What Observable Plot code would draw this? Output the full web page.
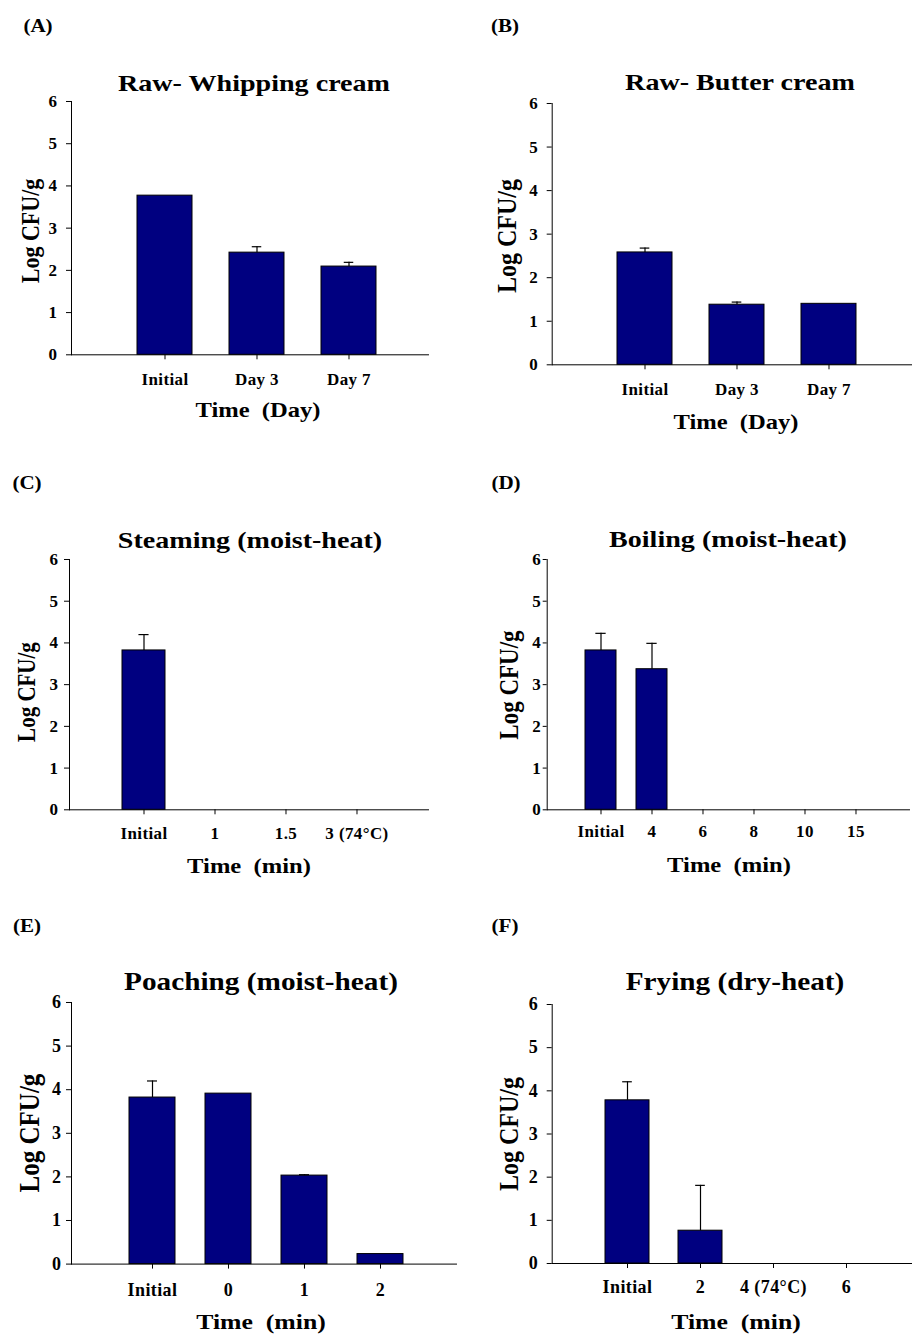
<!DOCTYPE html>
<html><head><meta charset="utf-8">
<script src="https://cdn.jsdelivr.net/npm/d3@7"></script>
<script src="https://cdn.jsdelivr.net/npm/@observablehq/plot@0.6"></script>
<style>
body{margin:0;background:#fff;}
#root{position:relative;width:912px;height:1335px;overflow:hidden;font-family:"Liberation Serif","Times New Roman",serif;font-weight:bold;color:#000;}
.t{position:absolute;white-space:pre;line-height:1;transform:translate(-50%,-50%) scaleX(1.17);z-index:2;}
.yl{position:absolute;white-space:pre;line-height:1;transform:translate(-50%,-50%) rotate(-90deg) scaleY(1.15);z-index:2;}
#root svg{position:absolute;}
</style></head><body><div id="root"></div>
<script>
// ---- text ----
const panelLetters = ["(A)", "(B)", "(C)", "(D)", "(E)", "(F)"];
const titles = ["Raw- Whipping cream", "Raw- Butter cream", "Steaming (moist-heat)", "Boiling (moist-heat)", "Poaching (moist-heat)", "Frying (dry-heat)"];
const xTitles = ["Time  (Day)", "Time  (Day)", "Time  (min)", "Time  (min)", "Time  (min)", "Time  (min)"];
const yTitle = "Log CFU/g";
const yTicks = [0, 1, 2, 3, 4, 5, 6];

// ---- data (Log CFU/g, mean and upper SD) ----
const timesA = ["Initial", "Day 3", "Day 7"];
const logA = [3.77, 2.42, 2.09];
const sdA = [0, 0.14, 0.10];

const timesB = ["Initial", "Day 3", "Day 7"];
const logB = [2.58, 1.38, 1.40];
const sdB = [0.10, 0.06, 0];

const timesC = ["Initial", "1", "1.5", "3 (74°C)"];
const logC = [3.82, 0, 0, 0];
const sdC = [0.38, 0, 0, 0];

const timesD = ["Initial", "4", "6", "8", "10", "15"];
const logD = [3.82, 3.37, 0, 0, 0, 0];
const sdD = [0.41, 0.62, 0, 0, 0, 0];

const timesE = ["Initial", "0", "1", "2"];
const logE = [3.82, 3.91, 2.03, 0.23];
const sdE = [0.38, 0, 0.02, 0];

const timesF = ["Initial", "2", "4 (74°C)", "6"];
const logF = [3.78, 0.76, 0, 0];
const sdF = [0.43, 1.05, 0, 0];

const series = [
  [timesA, logA, sdA], [timesB, logB, sdB], [timesC, logC, sdC],
  [timesD, logD, sdD], [timesE, logE, sdE], [timesF, logF, sdF]
];

// ---- layout (page pixels) ----
const layout = [
  {x0:0,   ml:71,   mr:28, y6:100.7,  y0:354,    xr:[117.75,395.25], title:[254,83,24],     xt:[257.5,410,21],  yl:[31,230.8,22],  lab:[37.5,25.8],  yTick:5, yPad:9, xPad:13, fs:17},
  {x0:456, ml:95.7, mr:0,  y6:102.7,  y0:364,    xr:[142.55,419.45], title:[739.7,81.7,24], xt:[736,422,21],    yl:[507,235.8,24], lab:[505,25.8],   yTick:5, yPad:9, xPad:13, fs:17},
  {x0:0,   ml:69,   mr:28, y6:559,    y0:809.3,  xr:[106.57,392.43], title:[250,539.5,24],  xt:[249,866,21],    yl:[28,691.7,21],  lab:[26.7,482.5], yTick:5, yPad:6, xPad:12, fs:17},
  {x0:456, ml:90.7, mr:3,  y6:559,    y0:809.3,  xr:[118.73,425.57], title:[728.3,538.7,24],xt:[728.5,864.5,21],yl:[509,685,23],   lab:[506,482.5],  yTick:4, yPad:2, xPad:10, fs:17},
  {x0:0,   ml:71,   mr:0,  y6:1001.7, y0:1263.3, xr:[112.37,419.03], title:[260.8,980.8,25],xt:[260.8,1321.7,22],yl:[29,1132.5,25], lab:[26.7,925.8], yTick:5, yPad:5, xPad:14, fs:18},
  {x0:456, ml:95.7, mr:0,  y6:1004.3, y0:1263.3, xr:[133.05,428.65], title:[734.7,980.8,25],xt:[736,1321.7,22], yl:[509,1134,24],  lab:[505,925.8],  yTick:5, yPad:9, xPad:12, fs:18}
];

const root = document.getElementById("root");
function addText(cls, txt, x, y, size) {
  const d = document.createElement("div");
  d.className = cls;
  d.textContent = txt;
  d.style.left = x + "px";
  d.style.top = y + "px";
  d.style.fontSize = size + "px";
  root.appendChild(d);
}

series.forEach(([cats, vals, errs], i) => {
  const L = layout[i];
  const rows = cats.map((c, k) => ({t: c, v: vals[k], e: errs[k]}));
  const mt = 12, mb = 50;
  const H = (L.y0 - L.y6) + mt + mb;
  const bw = 0.6 * (L.xr[1] - L.xr[0]) / cats.length;
  const inset = Math.max(0, (bw - 10) / 2);
  const svg = Plot.plot({
    width: 456, height: H,
    marginLeft: L.ml, marginRight: L.mr, marginTop: mt, marginBottom: mb,
    style: {background: "transparent", fontFamily: '"Liberation Serif", "Times New Roman", serif', fontWeight: "bold", fontSize: L.fs + "px", letterSpacing: "0.4px", color: "#000", overflow: "visible"},
    x: {type: "band", domain: cats, range: L.xr, paddingInner: 0.4, paddingOuter: 0.2, align: 0.5, label: null, tickSize: 5, tickPadding: L.xPad, line: true},
    y: {domain: [0, 6], ticks: yTicks, tickFormat: d => String(d), label: null, tickSize: L.yTick, tickPadding: L.yPad, line: true},
    marks: [
      Plot.barY(rows.filter(d => d.v > 0), {x: "t", y: "v", fill: "#000080", stroke: "#000", strokeWidth: 1}),
      Plot.ruleX(rows.filter(d => d.e > 0), {x: "t", y1: "v", y2: d => d.v + d.e, stroke: "#000", strokeWidth: 1.2}),
      Plot.tickY(rows.filter(d => d.e > 0), {x: "t", y: d => d.v + d.e, stroke: "#000", strokeWidth: 1.2, insetLeft: inset, insetRight: inset})
    ]
  });
  svg.style.left = L.x0 + "px";
  svg.style.top = (L.y6 - mt) + "px";
  root.appendChild(svg);
  addText("t", panelLetters[i], L.lab[0], L.lab[1], 18);
  addText("t", titles[i], L.title[0], L.title[1], L.title[2]);
  addText("t", xTitles[i], L.xt[0], L.xt[1], L.xt[2]);
  addText("yl", yTitle, L.yl[0], L.yl[1], L.yl[2]);
});
</script></body></html>
